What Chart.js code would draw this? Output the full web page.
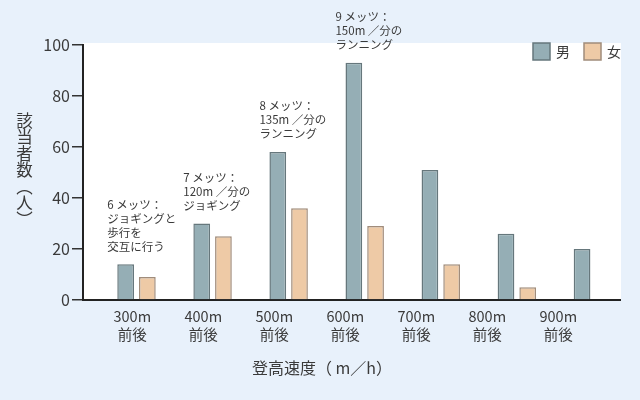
<!DOCTYPE html>
<html>
<head>
<meta charset="utf-8">
<script src="https://cdn.jsdelivr.net/npm/chart.js@4/dist/chart.umd.min.js"></script>
<style>
  body { margin: 0; background: #e8f1fb; }
  #wrap { position: relative; width: 640px; height: 400px; }
  .axisTitle { position: absolute; font-family: "Noto Sans CJK JP", sans-serif; font-size: 16px; color: #3a3a3a; line-height: 1; }
  #yTitle { left: 16px; top: 112px; writing-mode: vertical-rl; font-size: 16.5px; }
  #xTitle { left: 2px; width: 640px; top: 359px; text-align: center; }
</style>
</head>
<body>
<div id="wrap">
  <canvas id="chart" width="640" height="400"></canvas>
  <div class="axisTitle" id="yTitle">該当者数（人）</div>
  <div class="axisTitle" id="xTitle">登高速度（ m／h）</div>
</div>
<script>
// ===========================
// Data
// ===========================
const categories = ["300m","400m","500m","600m","700m","800m","900m"];
const catSuffix = "前後";
const seriesNames = ["男","女"];
const maleValues = [14, 30, 58, 93, 51, 26, 20];
const femaleValues = [9, 25, 36, 29, 14, 5, null];
const yTicks = [0, 20, 40, 60, 80, 100];
const notes = [
  ["6 メッツ：","ジョギングと","歩行を","交互に行う"],
  ["7 メッツ：","120m ／分の","ジョギング"],
  ["8 メッツ：","135m ／分の","ランニング"],
  ["9 メッツ：","150m ／分の","ランニング"]
];

const FONT = '"Noto Sans CJK JP", sans-serif';
const TEXT = "#3a3a3a";
const colors = [
  {fill:"#95aeb5", border:"#66777c"},
  {fill:"#eecaa6", border:"#a08c7b"}
];

// ===========================
// Plugins
// ===========================
const whiteArea = {
  id:"whiteArea",
  beforeDraw(chart){
    const {ctx, chartArea:a} = chart;
    ctx.save();
    ctx.fillStyle = "#ffffff";
    ctx.fillRect(a.left, a.top - 2, a.right - a.left + 1, a.bottom - a.top + 2);
    ctx.restore();
  }
};

const notesAndLegend = {
  id:"notesAndLegend",
  afterDatasetsDraw(chart){
    const {ctx, chartArea:a} = chart;
    const bars = chart.getDatasetMeta(0).data;
    ctx.save();
    ctx.fillStyle = TEXT;
    ctx.font = "11.5px " + FONT;
    ctx.textBaseline = "middle";
    notes.forEach((lines,i)=>{
      const b = bars[i];
      const x = b.x - b.width/2 - 10;
      lines.forEach((t,k)=>{
        ctx.fillText(t, x, b.y - 18 - (lines.length-1-k)*14);
      });
    });

    // legend
    ctx.font = "14px " + FONT;
    let lx = a.right - 87;
    chart.data.datasets.forEach(ds=>{
      ctx.fillStyle = ds.backgroundColor;
      ctx.strokeStyle = ds.borderColor;
      ctx.lineWidth = 1.5;
      ctx.fillRect(lx, a.top - 2, 17, 17);
      ctx.strokeRect(lx, a.top - 2, 17, 17);
      ctx.fillStyle = TEXT;
      ctx.fillText(ds.label, lx + 23, a.top + 7);
      lx += 51;
    });
    ctx.restore();
  }
};

// ===========================
// Chart
// ===========================
const toPoints = vals => vals.map((v,i)=>({x:i, y:v}));

new Chart(document.getElementById("chart"), {
  type:"bar",
  data:{
    datasets:[
      {label:seriesNames[0], data:toPoints(maleValues), backgroundColor:colors[0].fill, borderColor:colors[0].border, borderWidth:1.5},
      {label:seriesNames[1], data:toPoints(femaleValues), backgroundColor:colors[1].fill, borderColor:colors[1].border, borderWidth:1.5}
    ]
  },
  options:{
    responsive:false,
    animation:false,
    devicePixelRatio:1,
    categoryPercentage:0.571,
    barPercentage:0.77,
    layout:{padding:{top:45, right:20, left:0, bottom:0}},
    plugins:{legend:{display:false}, tooltip:{enabled:false}},
    scales:{
      x:{
        type:"linear", display:false, offset:false,
        min:-0.7033, max:6.356
      },
      x2:{
        type:"linear", position:"bottom", offset:false,
        min:-0.6944, max:6.869,
        afterBuildTicks(scale){ scale.ticks = categories.map((_,i)=>({value:i})); },
        afterFit(scale){ scale.height = 100; },
        grid:{display:false},
        border:{display:true, color:"#222", width:2},
        ticks:{
          autoSkip:false, maxRotation:0, padding:0,
          color:TEXT, font:{family:FONT, size:14.5, lineHeight:1.22},
          callback:(v)=>[categories[v], catSuffix]
        }
      },
      y:{
        min:0, max:100,
        afterBuildTicks(scale){ scale.ticks = yTicks.map(v=>({value:v})); },
        afterFit(scale){ scale.width = 83; },
        grid:{drawOnChartArea:false, drawTicks:true, tickLength:11, color:"#333", lineWidth:1.5},
        border:{display:true, color:"#222", width:2},
        ticks:{padding:2, color:TEXT, font:{family:FONT, size:16}}
      }
    }
  },
  plugins:[whiteArea, notesAndLegend]
});
</script>
</body>
</html>
